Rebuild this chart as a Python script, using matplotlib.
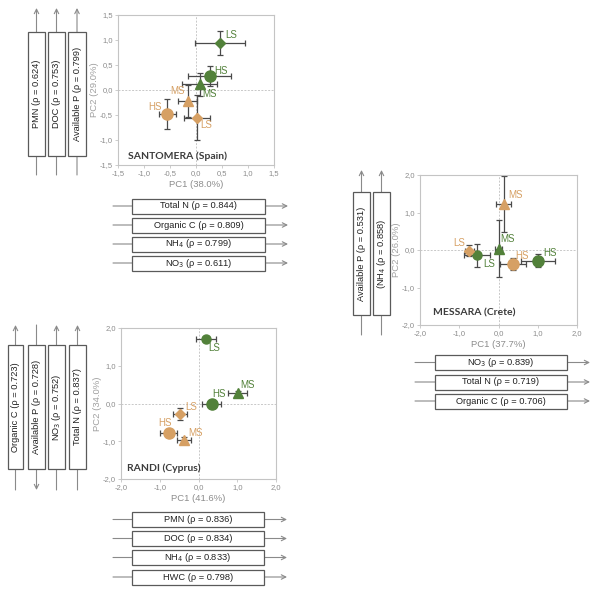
import matplotlib
matplotlib.use("Agg")
import matplotlib.pyplot as plt
from matplotlib.patches import Rectangle
from matplotlib.ticker import FuncFormatter, MultipleLocator

plt.rcParams['font.family'] = ['Liberation Sans', 'DejaVu Sans']

W, H = 600, 596
GREEN = '#52813a'
ORANGE = '#d6a064'
ERR = '#4a4a4a'

treatments = ['HS', 'MS', 'LS']

# ---------------- data ----------------
# Santomera (Spain)
sant_green_x = [0.26, 0.07, 0.47]
sant_green_y = [0.28, 0.12, 0.95]
sant_green_xerr = [0.42, 0.33, 0.48]
sant_green_yerr = [0.20, 0.23, 0.24]
sant_orange_x = [-0.55, -0.16, 0.02]
sant_orange_y = [-0.47, -0.22, -0.55]
sant_orange_xerr = [0.17, 0.18, 0.25]
sant_orange_yerr = [0.30, 0.32, 0.45]

# Messara (Crete)
mess_green_x = [1.00, 0.00, -0.55]
mess_green_y = [-0.28, 0.04, -0.14]
mess_green_xerr = [0.43, 0.08, 0.33]
mess_green_yerr = [0.17, 0.75, 0.30]
mess_orange_x = [0.37, 0.13, -0.74]
mess_orange_y = [-0.37, 1.22, -0.02]
mess_orange_xerr = [0.33, 0.20, 0.12]
mess_orange_yerr = [0.16, 0.75, 0.15]

# Randi (Cyprus)
randi_green_x = [0.34, 1.01, 0.19]
randi_green_y = [-0.01, 0.28, 1.71]
randi_green_xerr = [0.25, 0.25, 0.26]
randi_green_yerr = [0.10, 0.06, 0.05]
randi_orange_x = [-0.77, -0.37, -0.48]
randi_orange_y = [-0.78, -0.96, -0.28]
randi_orange_xerr = [0.22, 0.18, 0.19]
randi_orange_yerr = [0.08, 0.08, 0.17]

sant_vert_labels = ['PMN (ρ = 0.624)', 'DOC (ρ = 0.753)', 'Available P (ρ = 0.799)']
sant_horiz_labels = ['Total N (ρ = 0.844)', 'Organic C (ρ = 0.809)',
                     'NH$_4$ (ρ = 0.799)', 'NO$_3$ (ρ = 0.611)']
mess_vert_labels = ['Available P (ρ = 0.531)', '(NH$_4$ (ρ = 0.858)']
mess_horiz_labels = ['NO$_3$ (ρ = 0.839)', 'Total N (ρ = 0.719)', 'Organic C (ρ = 0.706)']
randi_vert_labels = ['Organic C (ρ = 0.723)', 'Available P (ρ = 0.728)',
                     'NO$_3$ (ρ = 0.752)', 'Total N (ρ = 0.837)']
randi_vert_dirs = ['up', 'down', 'up', 'up']
randi_horiz_labels = ['PMN (ρ = 0.836)', 'DOC (ρ = 0.834)',
                      'NH$_4$ (ρ = 0.833)', 'HWC (ρ = 0.798)']

# ---------------- layout ----------------
fig = plt.figure(figsize=(W / 100, H / 100), dpi=100)


def px_axes(x0, y0, x1, y1):
    return fig.add_axes([x0 / W, 1 - y1 / H, (x1 - x0) / W, (y1 - y0) / H])


fmt = FuncFormatter(lambda v, p: f'{v:.1f}'.replace('.', ','))

MSIZE = {'o': 6.5, '^': 7, 'D': 5}
HS_SIZE = 8


def panel(rect, lim, step, xlabel, ylabel, title, title_pos,
          gx, gy, gxe, gye, ox, oy, oxe, oye, g_markers, o_markers,
          g_off, o_off):
    ax = px_axes(*rect)
    ax.set_xlim(-lim, lim)
    ax.set_ylim(-lim, lim)
    ax.xaxis.set_major_locator(MultipleLocator(step))
    ax.yaxis.set_major_locator(MultipleLocator(step))
    ax.xaxis.set_major_formatter(fmt)
    ax.yaxis.set_major_formatter(fmt)
    for s in ax.spines.values():
        s.set_color('#c4c4c4')
        s.set_linewidth(0.8)
    ax.tick_params(labelsize=5.5, colors='#c4c4c4', labelcolor='#8c8c8c',
                   length=2, width=0.6, pad=1.5)
    ax.axhline(0, color='#c8c8c8', lw=0.7, ls=(0, (2, 1.5)), zorder=0)
    ax.axvline(0, color='#c8c8c8', lw=0.7, ls=(0, (2, 1.5)), zorder=0)
    ax.set_xlabel(xlabel, fontsize=6.8, color='#8c8c8c', labelpad=2)
    ax.set_ylabel(ylabel, fontsize=6.8, color='#a0a0a0', labelpad=1)
    for xs, ys, xe, ye, col, markers, offs in (
            (gx, gy, gxe, gye, GREEN, g_markers, g_off),
            (ox, oy, oxe, oye, ORANGE, o_markers, o_off)):
        for i, t in enumerate(treatments):
            ax.errorbar(xs[i], ys[i], xerr=xe[i], yerr=ye[i], fmt='none',
                        ecolor=ERR, elinewidth=0.9, capsize=2, capthick=0.9,
                        zorder=2)
            m = markers[i]
            size = HS_SIZE if t == 'HS' else MSIZE[m]
            ax.plot(xs[i], ys[i], marker=m, ms=size,
                    color=col, mec=col, ls='none', zorder=3)
            ax.annotate(t, (xs[i], ys[i]), xytext=offs[i],
                        textcoords='offset pixels', ha='center', va='center',
                        fontsize=7, color=col, zorder=4)
    ax.text(title_pos[0], title_pos[1], title, transform=ax.transAxes,
            fontsize=7.5, fontweight='bold', color='#3c3c3c', va='center',
            ha='left', family=['Lato', 'DejaVu Sans'])
    return ax


panel((118, 15, 274, 165), 1.5, 0.5, 'PC1 (38.0%)', 'PC2 (29.0%)',
      'SANTOMERA (Spain)', (0.064, 0.06),
      sant_green_x, sant_green_y, sant_green_xerr, sant_green_yerr,
      sant_orange_x, sant_orange_y, sant_orange_xerr, sant_orange_yerr,
      ['o', '^', 'D'], ['o', '^', 'D'],
      [(11, 5), (10, -10), (11, 7)], [(-12, 6), (-10, 10), (9, -8)])

panel((420, 175, 577, 325), 2.0, 1.0, 'PC1 (37.7%)', 'PC2 (26.0%)',
      'MESSARA (Crete)', (0.083, 0.08),
      mess_green_x, mess_green_y, mess_green_xerr, mess_green_yerr,
      mess_orange_x, mess_orange_y, mess_orange_xerr, mess_orange_yerr,
      ['o', '^', 'o'], ['o', '^', 'D'],
      [(12, 7), (9, 9), (12, -9)], [(9, 8), (12, 9), (-10, 8)])

panel((121, 328, 276, 479), 2.0, 1.0, 'PC1 (41.6%)', 'PC2 (34.0%)',
      'RANDI (Cyprus)', (0.04, 0.073),
      randi_green_x, randi_green_y, randi_green_xerr, randi_green_yerr,
      randi_orange_x, randi_orange_y, randi_orange_xerr, randi_orange_yerr,
      ['o', '^', 'o'], ['o', '^', 'D'],
      [(7, 10), (10, 8), (8, -9)], [(-4, 10), (11, 7), (11, 7)])

# ---------------- overlay with boxes and arrows ----------------
ov = fig.add_axes([0, 0, 1, 1])
ov.set_xlim(0, W)
ov.set_ylim(H, 0)
ov.axis('off')
ov.patch.set_visible(False)

LINE = '#8a8a8a'
BOX = '#5a5a5a'
BOXFONT = 6.7


def hboxes(labels, bx0, bx1, lx0, lx1, ycs, h=15):
    for lab, yc in zip(labels, ycs):
        ov.annotate('', xy=(lx1, yc), xytext=(lx0, yc),
                    arrowprops=dict(arrowstyle='->', color=LINE, lw=0.8,
                                    shrinkA=0, shrinkB=0, mutation_scale=8))
        ov.add_patch(Rectangle((bx0, yc - h / 2), bx1 - bx0, h, fc='white',
                               ec=BOX, lw=0.9, zorder=3))
        ov.text((bx0 + bx1) / 2, yc, lab, ha='center', va='center',
                fontsize=BOXFONT, color='#222222', zorder=4)


def vboxes(labels, xranges, by0, by1, ly0, ly1, dirs=None):
    for i, (lab, (x0, x1)) in enumerate(zip(labels, xranges)):
        xc = (x0 + x1) / 2
        d = dirs[i] if dirs else 'up'
        if d == 'up':
            start, end = (xc, ly1), (xc, ly0)
        else:
            start, end = (xc, ly0), (xc, ly1)
        ov.annotate('', xy=end, xytext=start,
                    arrowprops=dict(arrowstyle='->', color=LINE, lw=0.8,
                                    shrinkA=0, shrinkB=0, mutation_scale=8))
        ov.add_patch(Rectangle((x0, by0), x1 - x0, by1 - by0, fc='white',
                               ec=BOX, lw=0.9, zorder=3))
        ov.text(xc, (by0 + by1) / 2, lab, ha='center', va='center',
                rotation=90, fontsize=BOXFONT, color='#222222', zorder=4)


# Santomera
vboxes(sant_vert_labels, [(28, 45), (48, 65), (68, 86)], 32, 156, 8, 175)
hboxes(sant_horiz_labels, 132, 265, 113, 288, [206, 225, 244, 263])
# Messara
vboxes(mess_vert_labels, [(353, 370), (373, 390)], 192, 315, 170, 335)
hboxes(mess_horiz_labels, 435, 567, 415, 590, [362.5, 382, 401])
# Randi
vboxes(randi_vert_labels, [(8, 23), (28, 45), (48, 65), (69, 86)], 345, 469,
       325, 490, randi_vert_dirs)
hboxes(randi_horiz_labels, 132, 264, 113, 287, [519.5, 538.5, 557.5, 577])

fig.savefig('out.png', dpi=100)
